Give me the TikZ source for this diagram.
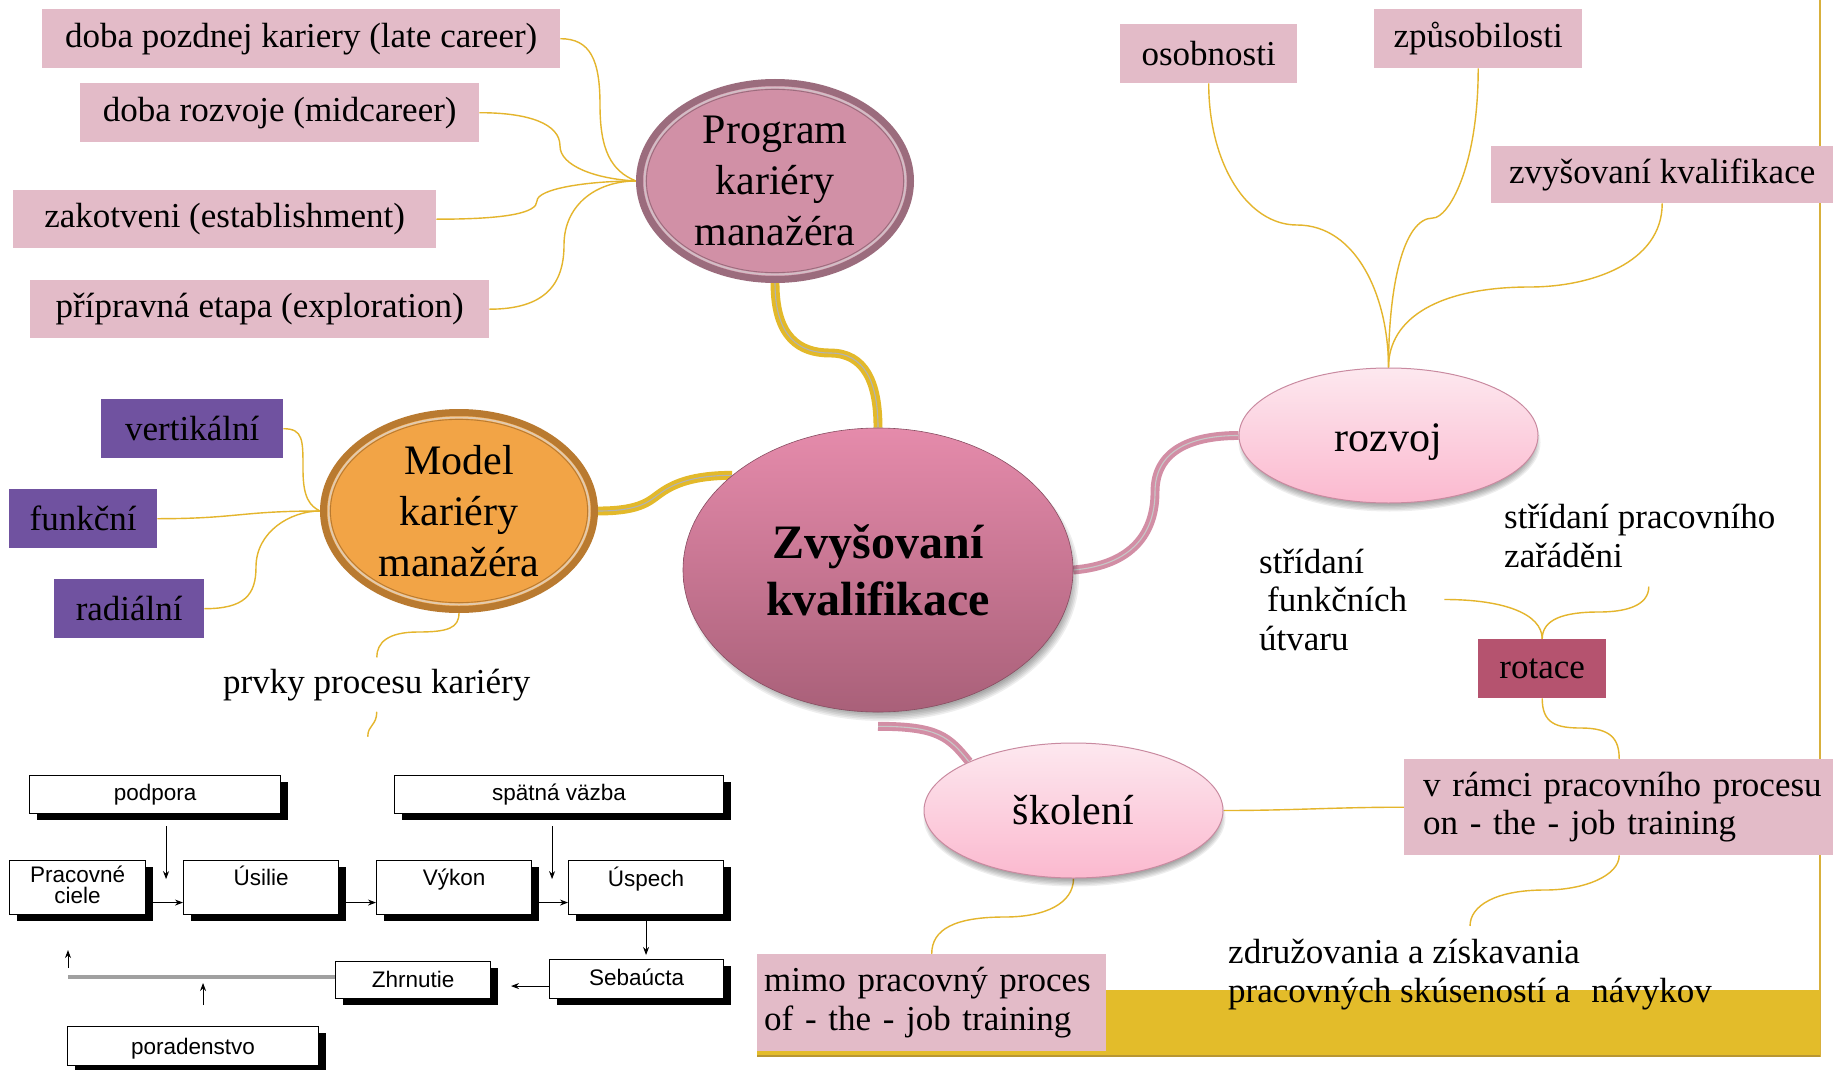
\documentclass[tikz,border=0pt]{standalone}
\usepackage{fontspec}
\setmainfont{Liberation Serif}
\newfontfamily\flowfont{Liberation Sans}
\usetikzlibrary{shapes.geometric,arrows.meta,shadows,backgrounds}

\definecolor{labelpink}{HTML}{E3BBC8}
\definecolor{labelpurple}{HTML}{7052A0}
\definecolor{rotacefill}{HTML}{B5536F}
\definecolor{twig}{HTML}{E4B52C}
\definecolor{bandyellow}{HTML}{E3BC2A}
\definecolor{framegold}{HTML}{D8B03C}
\definecolor{progfill}{HTML}{D190A6}
\definecolor{progring}{HTML}{9B6C7D}
\definecolor{modelfill}{HTML}{F2A446}
\definecolor{modelring}{HTML}{B97A30}
\definecolor{coretop}{HTML}{E58BAB}
\definecolor{corebottom}{HTML}{A96079}
\definecolor{subtop}{HTML}{FDE8EF}
\definecolor{subbottom}{HTML}{FBB9CF}
\definecolor{subring}{HTML}{C98AA0}
\definecolor{branchyellow}{HTML}{E3B92A}
\definecolor{branchpink}{HTML}{D28EA5}
\definecolor{loopgray}{HTML}{A0A0A0}

\begin{document}
\begin{tikzpicture}[x=1pt,y=-1pt,
  lbl/.style={font=\fontsize{35}{38.5}\selectfont},
  tag/.style={rectangle, fill=labelpink, inner sep=0pt, anchor=north west, lbl},
  ptag/.style={tag, fill=labelpurple},
  freetext/.style={lbl, inner sep=0pt, align=left, anchor=base west},
  ringnode/.style={ellipse, line width=7pt, inner sep=0pt, minimum width=271,
    minimum height=197, align=center, font=\fontsize{42}{51}\selectfont},
  subnode/.style={ellipse, draw=subring, line width=1pt, top color=subtop,
    bottom color=subbottom, inner sep=0pt, minimum width=299, minimum height=135,
    font=\fontsize{42}{51}\selectfont},
  softshade/.style={fill=black, opacity=0.065},
  twigline/.style={draw=twig, line width=1.4pt},
  ybranch/.style={draw=branchyellow, line width=3.9pt, double=black!30, double distance=1.1pt},
  pbranch/.style={draw=branchpink, line width=3.9pt, double=black!22, double distance=1.1pt},
  fbox/.style={rectangle, draw=black, line width=1.1pt, fill=white, inner sep=0pt,
    anchor=north west, font=\flowfont\fontsize{22.5}{21}\selectfont,
    drop shadow={shadow xshift=7pt, shadow yshift=-6pt, fill=black, opacity=1}},
  flowarrow/.style={-{Stealth[length=8pt,width=6pt]}, line width=1pt, draw=black}
]
\useasboundingbox (0,0) rectangle (1833,1070);
\begin{pgfonlayer}{background}
\fill[white] (0,0) rectangle (1833,1070);
\end{pgfonlayer}

% page frame and golden band
\draw[framegold, line width=2pt] (1820,0) -- (1820,1057);
\fill[bandyellow] (757,990) rectangle (1820,1055);
\draw[framegold!85!black, line width=1.5pt] (757,1056) -- (1820,1056);

% soft shadows under the central and secondary ellipses
\foreach \g in {0,1,2,3,4,5} {
  \fill[softshade] (882,577) ellipse [x radius={189+1.6*\g}, y radius={136+1.6*\g}];
  \fill[softshade] (1389.5,442.5) ellipse [x radius={144+1.4*\g}, y radius={62+1.4*\g}];
  \fill[softshade] (1074.5,817.5) ellipse [x radius={144+1.4*\g}, y radius={62+1.4*\g}];
}

% ---------- main ellipses ----------
\node[ringnode, draw=progring, fill=progfill] (prog) at (775,181) {Program\\kariéry\\manažéra};
\draw[progring!45!white, line width=2pt] (prog.center) ellipse [x radius=130.5, y radius=93.5];
\draw[progring, line width=0.9pt] (prog.center) ellipse [x radius=128.6, y radius=91.6];

\node[ringnode, draw=modelring, fill=modelfill] (model) at (459,511) {Model\\kariéry\\manažéra};
\draw[modelring!40!white, line width=2pt] (model.center) ellipse [x radius=130.5, y radius=93.5];
\draw[modelring, line width=0.9pt] (model.center) ellipse [x radius=128.6, y radius=91.6];

\node[ellipse, top color=coretop, bottom color=corebottom, draw=corebottom!80!black, line width=0.6pt,
  minimum width=390, minimum height=284, inner sep=0pt, align=center,
  font=\bfseries\fontsize{48}{57}\selectfont]
  (core) at (878,570) {Zvyšovaní\\kvalifikace};

\node[subnode] (rozvoj) at (1388.5,435.5) {\raisebox{-16pt}[0pt][0pt]{rozvoj}};
\node[subnode] (skol) at (1073.5,810.5) {školení};

% ---------- label boxes ----------
\node[tag, minimum width=518, minimum height=59] (late) at (42,9) {doba pozdnej kariery (late career)};
\node[tag, minimum width=399, minimum height=59] (midc) at (80,83) {doba rozvoje (midcareer)};
\node[tag, minimum width=423, minimum height=58] (estab) at (13,190) {zakotveni (establishment)};
\node[tag, minimum width=459, minimum height=58] (explor) at (30,280) {přípravná etapa (exploration)};

\node[ptag, minimum width=182, minimum height=59] (vert) at (101,399) {vertikální};
\node[ptag, minimum width=148, minimum height=59] (funk) at (9,489) {funkční};
\node[ptag, minimum width=150, minimum height=59] (radial) at (54,579) {radiální};

\node[tag, minimum width=177, minimum height=59] (osob) at (1120,24) {osobnosti};
\node[tag, minimum width=208, minimum height=59] (zpus) at (1374,9) {způsobilosti};
\node[tag, minimum width=342, minimum height=57] (zvys) at (1491,146) {zvyšovaní kvalifikace};

\node[tag, fill=rotacefill, minimum width=128, minimum height=59] (rotace) at (1478,639) {rotace};

\node[tag, minimum height=96, inner xsep=19pt, text width=420pt, align=left] (onjob) at (1404,759)
  {v rámci pracovního procesu\\on - the - job training};
\node[tag, minimum height=97, inner xsep=7pt, text width=335pt, align=left] (offjob) at (757,954)
  {mimo pracovný proces\\of - the - job training};

% ---------- free texts (anchored at the baseline of their last line) ----------
\node[freetext] (prvky) at (223,693) {prvky procesu kariéry};
\node[freetext] (stridfunk) at (1259,650) {střídaní\\\hspace*{8pt}funkčních\\útvaru};
\node[freetext] (stridprac) at (1504,567) {střídaní pracovního\\zařáděni};
\node[freetext] (zdruz) at (1228,1002) {združovania a získavania\\pracovných skúseností a\hspace{0.6em}návykov};

% ---------- connectors ----------
\begin{pgfonlayer}{background}
% thick branches from the centre
\draw[ybranch] (prog.south) .. controls +(0,55) and +(-30,0) .. (830,353)
  .. controls +(35,0) and +(0,-45) .. (core.north);
\draw[ybranch] (model.east) .. controls +(45,0) and +(-12,8) .. (662,492)
  .. controls +(12,-8) and +(-40,0) .. (core.147);
\draw[pbranch] (core.east) .. controls +(60,-5) and +(0,40) .. (1155,492)
  .. controls +(0,-40) and +(-50,0) .. (rozvoj.west);
\draw[pbranch] ([yshift=-14pt]core.south) .. controls +(60,0) and +(-20,-25) .. (skol.155);

% career stages
\draw[twigline] (late.east) .. controls +(30,0) and +(0,-45) .. (600,105)
  .. controls +(0,45) and +(-25,-10) .. (prog.west);
\draw[twigline] (midc.east) .. controls +(50,0) and +(0,-22) .. (560,146)
  .. controls +(0,20) and +(-40,-2) .. (prog.west);
\draw[twigline] (estab.east) .. controls +(70,0) and +(0,12) .. (537,201)
  .. controls +(0,-12) and +(-50,0) .. (prog.west);
\draw[twigline] (explor.east) .. controls +(55,0) and +(0,40) .. (564,245)
  .. controls +(0,-40) and +(-40,0) .. (prog.west);

% career model types
\draw[twigline] (vert.east) .. controls +(20,0) and +(0,-30) .. (303,470)
  .. controls +(0,28) and +(-10,-5) .. (model.west);
\draw[twigline] (funk.east) .. controls +(80,0) and +(-80,0) .. (model.west);
\draw[twigline] (radial.east) .. controls +(40,0) and +(0,28) .. (256,567)
  .. controls +(0,-35) and +(-30,0) .. (model.west);
\draw[twigline] (model.south) .. controls +(0,15) and +(30,0) .. (418,632)
  .. controls +(-30,0) and +(0,-15) .. ([yshift=11pt]prvky.north);
\draw[twigline] ([yshift=-11pt]prvky.south) .. controls +(0,14) and +(0,-12) .. +(-9,25) coordinate (flowlink);

% development
\draw[twigline] (osob.south) .. controls +(0,80) and +(-50,0) .. (1297,225)
  .. controls +(60,0) and +(0,-70) .. (rozvoj.north);
\draw[twigline] (zpus.south) .. controls +(0,100) and +(15,0) .. (1433,218)
  .. controls +(-30,0) and +(0,-80) .. (rozvoj.north);
\draw[twigline] (zvys.south) .. controls +(0,60) and +(60,0) .. (1530,287)
  .. controls +(-90,0) and +(0,-50) .. (rozvoj.north);

% rotation and training
\draw[twigline] ([xshift=37pt]stridfunk.east) .. controls +(60,0) and +(0,-25) .. (rotace.north);
\draw[twigline] ([xshift=9pt,yshift=-19pt]stridprac.south) .. controls +(0,20) and +(25,0) .. (1599,612)
  .. controls +(-35,0) and +(0,-20) .. (rotace.north);
\draw[twigline] (rotace.south) .. controls +(0,25) and +(-25,0) .. (1581,728)
  .. controls +(30,0) and +(0,-20) .. ([xshift=-14pt]onjob.north);
\draw[twigline] (skol.east) .. controls +(70,0) and +(-70,0) .. (onjob.west);
\draw[twigline] (skol.south) .. controls +(0,25) and +(40,0) .. (1005,917)
  .. controls +(-50,0) and +(0,-25) .. (offjob.north);
\draw[twigline] ([xshift=-14pt]onjob.south) .. controls +(0,20) and +(40,0) .. (1545,890)
  .. controls +(-50,0) and +(0,-20) .. ([yshift=13pt]zdruz.north);
\end{pgfonlayer}

% ---------- career process flowchart ----------
\node[fbox, minimum width=251, minimum height=38, text height=25pt, text depth=13pt] (podpora) at (29,775) {podpora};
\node[fbox, minimum width=329, minimum height=38, text height=25pt, text depth=13pt] (spatna) at (394,775) {spätná väzba};
\node[fbox, minimum width=136, minimum height=54, text height=22pt, text depth=32pt] (pracovne) at (9,860)
  {\vtop{\baselineskip=21pt\hbox to 136pt{\hfil Pracovné\hfil}\hbox to 136pt{\hfil ciele\hfil}}};
\node[fbox, minimum width=155, minimum height=54, text height=25pt, text depth=29pt] (usilie) at (183,860) {Úsilie};
\node[fbox, minimum width=155, minimum height=54, text height=25pt, text depth=29pt] (vykon) at (376,860) {Výkon};
\node[fbox, minimum width=155, minimum height=54, text height=26pt, text depth=28pt] (uspech) at (568,860) {Úspech};
\node[fbox, minimum width=155, minimum height=37, text height=26pt, text depth=11pt] (zhrnutie) at (335,961) {Zhrnutie};
\node[fbox, minimum width=174, minimum height=39, text height=26pt, text depth=13pt] (sebaucta) at (549,959) {Sebaúcta};
\node[fbox, minimum width=251, minimum height=39, text height=28pt, text depth=11pt] (poradenstvo) at (67,1026) {poradenstvo};

\draw[flowarrow] ([xshift=11pt,yshift=-12pt]podpora.south) -- +(0,53);
\draw[flowarrow] ([xshift=-7pt,yshift=-12pt]spatna.south) -- +(0,53);
\draw[flowarrow] ([yshift=-15pt]pracovne.east) -- ([yshift=-15pt]usilie.west);
\draw[flowarrow] ([yshift=-15pt]usilie.east) -- ([yshift=-15pt]vykon.west);
\draw[flowarrow] ([yshift=-15pt]vykon.east) -- ([yshift=-15pt]uspech.west);
\draw[flowarrow] (uspech.south) -- ([yshift=4pt]uspech.south |- sebaucta.north);
\draw[flowarrow] ([yshift=-7pt]sebaucta.west) -- +(-38,0);
\draw[loopgray, line width=4pt] ([yshift=3pt]zhrnutie.west) -- +(-267,0) coordinate (loopend);
\draw[flowarrow] ([yshift=9pt]loopend) -- +(0,-18);
\draw[flowarrow] ([xshift=10pt,yshift=21pt]poradenstvo.north) -- +(0,-22);
\end{tikzpicture}
\end{document}
